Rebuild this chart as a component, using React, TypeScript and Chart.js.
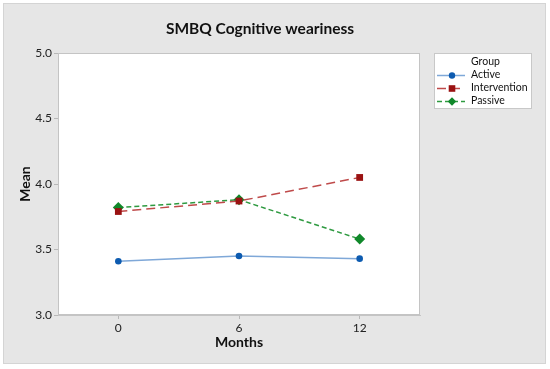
import React, { useEffect, useRef } from "react";
import { Chart, registerables } from "chart.js";

Chart.register(...registerables);

const title = "SMBQ Cognitive weariness";
const xTitle = "Months";
const yTitle = "Mean";
const months = [0, 6, 12];
const active = [3.41, 3.45, 3.43];
const intervention = [3.79, 3.87, 4.05];
const passive = [3.82, 3.88, 3.58];
const yTicks = [3.0, 3.5, 4.0, 4.5, 5.0];
const legendTitle = "Group";
const seriesNames = ["Active", "Intervention", "Passive"];

const FONT = "Lato, 'Open Sans', sans-serif";

const colors = {
  active: { line: "#7fa8d8", point: "#0d5bb0" },
  intervention: { line: "#bf4a4a", point: "#9a1212" },
  passive: { line: "#2e9a40", point: "#10882a" },
};

export default function App() {
  const ref = useRef<HTMLCanvasElement | null>(null);

  useEffect(() => {
    document.body.style.margin = "0";
    const canvas = ref.current!;
    const bgPlugin = {
      id: "bg",
      beforeDraw(chart: any) {
        const { ctx, chartArea } = chart;
        ctx.save();
        ctx.fillStyle = "#ffffff";
        ctx.fillRect(0, 0, 550, 369);
        ctx.fillStyle = "#e6e6e6";
        ctx.fillRect(3, 3, 543, 361);
        ctx.strokeStyle = "#d4d4d4";
        ctx.lineWidth = 1;
        ctx.strokeRect(3.5, 3.5, 542, 360);
        ctx.fillStyle = "#ffffff";
        ctx.fillRect(chartArea.left, chartArea.top, chartArea.right - chartArea.left, chartArea.bottom - chartArea.top);
        ctx.restore();
      },
      afterDraw(chart: any) {
        const { ctx, chartArea } = chart;
        ctx.save();
        // plot border
        ctx.strokeStyle = "#c4c4c4";
        ctx.lineWidth = 1;
        ctx.strokeRect(chartArea.left + 0.5, chartArea.top + 0.5, chartArea.right - chartArea.left - 1, chartArea.bottom - chartArea.top - 1);
        // title
        ctx.fillStyle = "#111111";
        ctx.font = `bold 15.5px ${FONT}`;
        ctx.textAlign = "center";
        ctx.textBaseline = "middle";
        ctx.fillText(title, 260, 29);
        // axis titles
        ctx.font = `bold 14px ${FONT}`;
        ctx.fillText(xTitle, (chartArea.left + chartArea.right) / 2, 342);
        ctx.save();
        ctx.translate(25, (chartArea.top + chartArea.bottom) / 2);
        ctx.rotate(-Math.PI / 2);
        ctx.fillText(yTitle, 0, 0);
        ctx.restore();
        // legend
        const lx = 434, ly = 53, lw = 98, lh = 56;
        ctx.fillStyle = "#ffffff";
        ctx.fillRect(lx, ly, lw, lh);
        ctx.strokeStyle = "#c8c8c8";
        ctx.strokeRect(lx + 0.5, ly + 0.5, lw - 1, lh - 1);
        ctx.fillStyle = "#111111";
        ctx.font = `10.5px ${FONT}`;
        ctx.textAlign = "left";
        ctx.fillText(legendTitle, 471, 62);
        chart.data.datasets.forEach((ds: any, i: number) => {
          const y = 75 + i * 13;
          ctx.strokeStyle = ds.borderColor;
          ctx.lineWidth = ds.borderWidth;
          ctx.setLineDash(ds.borderDash || []);
          ctx.beginPath();
          ctx.moveTo(437, y + 0.5);
          ctx.lineTo(465, y + 0.5);
          ctx.stroke();
          ctx.setLineDash([]);
          ctx.fillStyle = ds.pointBackgroundColor;
          ctx.beginPath();
          if (ds.pointStyle === "circle") {
            ctx.arc(452, y + 0.5, 3.2, 0, Math.PI * 2);
          } else if (ds.pointStyle === "rect") {
            ctx.rect(452 - 3.3, y + 0.5 - 3.3, 6.6, 6.6);
          } else {
            const r = 4.2;
            ctx.moveTo(452, y + 0.5 - r);
            ctx.lineTo(452 + r, y + 0.5);
            ctx.lineTo(452, y + 0.5 + r);
            ctx.lineTo(452 - r, y + 0.5);
            ctx.closePath();
          }
          ctx.fill();
          ctx.fillStyle = "#111111";
          ctx.fillText(seriesNames[i], 471, y);
        });
        ctx.restore();
      },
    };

    const mk = (arr: number[]) => months.map((m, i) => ({ x: m, y: arr[i] }));

    const chart = new Chart(canvas, {
      type: "line",
      data: {
        datasets: [
          {
            label: seriesNames[0],
            data: mk(active),
            borderColor: colors.active.line,
            borderWidth: 1.5,
            pointStyle: "circle",
            pointRadius: 3.3,
            pointBackgroundColor: colors.active.point,
            pointBorderColor: colors.active.point,
            pointBorderWidth: 0,
          },
          {
            label: seriesNames[1],
            data: mk(intervention),
            borderColor: colors.intervention.line,
            borderWidth: 1.5,
            borderDash: [9, 5],
            pointStyle: "rect",
            pointRadius: 4.8,
            pointBackgroundColor: colors.intervention.point,
            pointBorderColor: colors.intervention.point,
            pointBorderWidth: 0,
          },
          {
            label: seriesNames[2],
            data: mk(passive),
            borderColor: colors.passive.line,
            borderWidth: 1.5,
            borderDash: [5, 3],
            pointStyle: "rectRot",
            pointRadius: 5.5,
            pointBackgroundColor: colors.passive.point,
            pointBorderColor: colors.passive.point,
            pointBorderWidth: 0,
          },
        ] as any,
      },
      plugins: [bgPlugin],
      options: {
        animation: false,
        responsive: false,
        maintainAspectRatio: false,
        layout: { padding: { left: 0, top: 53, right: 130, bottom: 0 } },
        plugins: { legend: { display: false }, title: { display: false }, tooltip: { enabled: false } },
        scales: {
          x: {
            type: "linear",
            min: -3,
            max: 15,
            afterBuildTicks: (s: any) => {
              s.ticks = months.map((v) => ({ value: v }));
            },
            afterFit: (s: any) => {
              s.height = 54;
            },
            grid: { drawOnChartArea: false, drawTicks: true, tickLength: 4, color: "#b8b8b8" },
            border: { color: "#c4c4c4" },
            ticks: { color: "#222222", font: { family: FONT, size: 12 }, padding: 2, maxRotation: 0 },
          },
          y: {
            type: "linear",
            min: 3,
            max: 5,
            afterBuildTicks: (s: any) => {
              s.ticks = yTicks.map((v) => ({ value: v }));
            },
            afterFit: (s: any) => {
              s.width = 58;
            },
            grid: { drawOnChartArea: false, drawTicks: true, tickLength: 4, color: "#b8b8b8" },
            border: { color: "#c4c4c4" },
            ticks: { color: "#222222", font: { family: FONT, size: 12 }, padding: 2, callback: (v: any) => Number(v).toFixed(1) },
          },
        },
      } as any,
    });
    return () => chart.destroy();
  }, []);

  return (
    <div style={{ position: "absolute", left: 0, top: 0, width: 550, height: 369 }}>
      <canvas ref={ref} width={550} height={369} style={{ width: 550, height: 369 }} />
    </div>
  );
}
